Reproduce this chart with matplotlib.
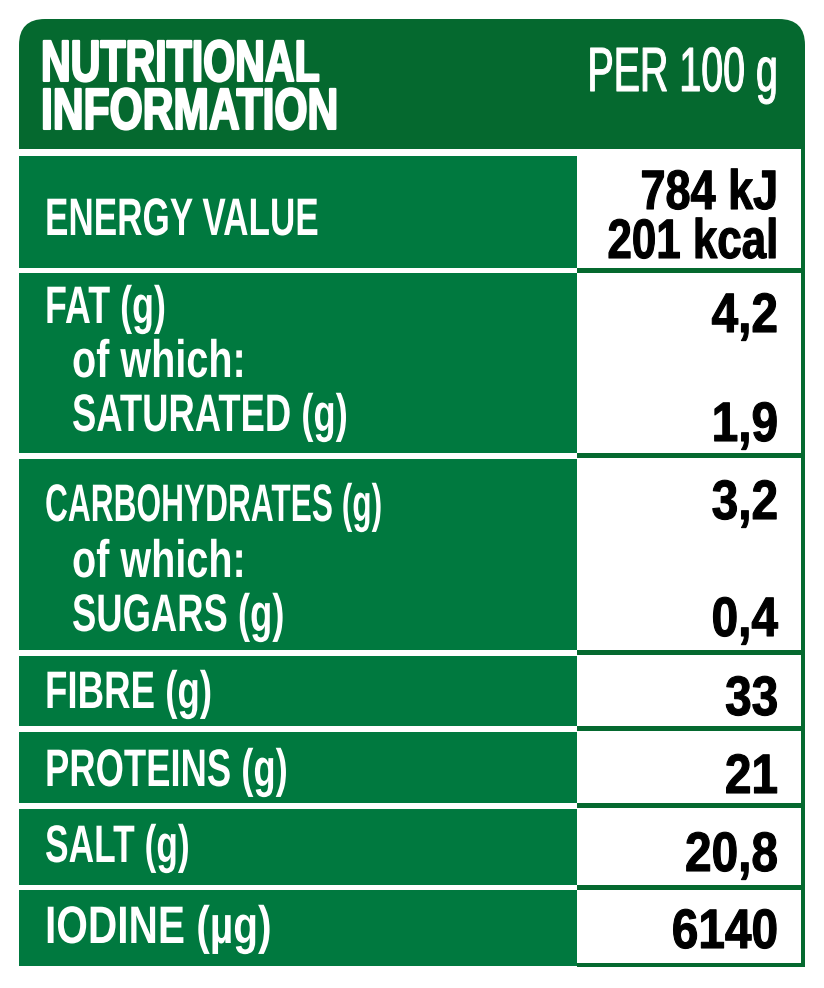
"""
Tabla de informacion nutricional dibujada en coordenadas de pixel.
No hay fuente condensada instalada: el texto se estrecha con un path effect.
"""
import matplotlib
matplotlib.use("Agg")
import matplotlib.pyplot as plt
from matplotlib.patches import FancyBboxPatch, Rectangle
from matplotlib.patheffects import AbstractPathEffect
from matplotlib.transforms import Affine2D

plt.rcParams["font.family"] = ["Liberation Sans", "DejaVu Sans"]

titulo = ["NUTRITIONAL", "INFORMATION"]
columna = "PER 100 g"
filas = ["ENERGY VALUE", "FAT (g)", "of which:", "SATURATED (g)", "CARBOHYDRATES (g)", "of which:",
         "SUGARS (g)", "FIBRE (g)", "PROTEINS (g)", "SALT (g)", "IODINE (µg)"]
valores = ["784 kJ", "201 kcal", "4,2", "1,9", "3,2", "0,4", "33", "21", "20,8", "6140"]

VERDE = "#00793F"
OSCURO = "#05692F"

# pixeles: (arriba, abajo) de cada bloque verde
bloques = [(156, 268), (273, 453), (459, 650), (656, 726), (732, 803), (809, 885), (890, 966)]
base_filas = [235, 323, 377, 431, 521, 577, 631, 708, 786, 862, 943]
x_filas = [45, 45, 72, 72, 45, 72, 72, 45, 45, 45, 45]
ancho_filas = [0.665, 0.68, 0.75, 0.69, 0.60, 0.75, 0.69, 0.695, 0.69, 0.67, 0.77]
base_valores = [209, 258, 332, 441, 519, 636, 715, 793, 871, 948]
ancho_valores = [0.81, 0.79, 0.86, 0.86, 0.86, 0.86, 0.86, 0.86, 0.86, 0.86]


class Condensar(AbstractPathEffect):
    """Escala el texto en x alrededor de x0 (pixeles) y engrosa el trazo."""

    def __init__(self, x0, sx, grosor=0, color="white"):
        super().__init__()
        self.x0, self.sx, self.grosor, self.color = x0, sx, grosor, color

    def draw_path(self, renderer, gc, tpath, affine, rgbFace=None):
        gc0 = renderer.new_gc()
        gc0.copy_properties(gc)
        gc0.set_linewidth(self.grosor)
        gc0.set_foreground(self.color)
        t = Affine2D().translate(-self.x0, 0).scale(self.sx, 1).translate(self.x0, 0)
        renderer.draw_path(gc0, tpath, affine + t, rgbFace)
        gc0.restore()


fig = plt.figure(figsize=(8.24, 9.88), dpi=100)
ax = fig.add_axes([0, 0, 1, 1])
ax.set_xlim(0, 824)
ax.set_ylim(988, 0)
ax.axis("off")

# cabecera con esquinas superiores redondeadas
ax.add_patch(FancyBboxPatch((19, 19), 786, 100, boxstyle="round,pad=0,rounding_size=26",
                            fc=OSCURO, ec="none", mutation_aspect=1))
ax.add_patch(Rectangle((19, 60), 786, 89, fc=OSCURO, ec="none"))

# borde derecho y lineas de la columna de valores
ax.add_patch(Rectangle((801, 149), 4, 818, fc=OSCURO, ec="none"))
ax.add_patch(Rectangle((577, 963), 228, 4, fc=OSCURO, ec="none"))
for arriba, abajo in bloques[:-1]:
    ax.add_patch(Rectangle((577, abajo), 228, 5, fc=OSCURO, ec="none"))

for arriba, abajo in bloques:
    ax.add_patch(Rectangle((19, arriba), 558, abajo - arriba, fc=VERDE, ec="none"))

for txt, y, sx in zip(titulo, [81, 129], [0.705, 0.73]):
    ax.text(41, y, txt, color="white", fontsize=42, fontweight="bold", va="baseline",
            path_effects=[Condensar(41, sx, 1.5, "white")])
ax.text(778, 91, columna, color="white", fontsize=45, ha="right", va="baseline",
        path_effects=[Condensar(778, 0.63, 0.8, "white")])

for txt, x, y, sx in zip(filas, x_filas, base_filas, ancho_filas):
    ax.text(x, y, txt, color="white", fontsize=38, fontweight="bold", va="baseline",
            path_effects=[Condensar(x, sx)])
for txt, y, sx in zip(valores, base_valores, ancho_valores):
    ax.text(778, y, txt, color="black", fontsize=40, fontweight="bold", ha="right", va="baseline",
            path_effects=[Condensar(778, sx, 0.8, "black")])

fig.savefig("out.png", dpi=100)
